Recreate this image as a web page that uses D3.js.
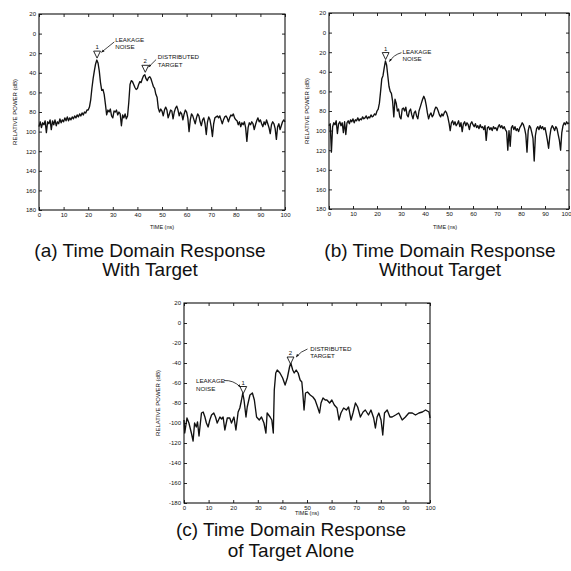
<!DOCTYPE html>
<html><head><meta charset="utf-8">
<script src="https://cdn.jsdelivr.net/npm/d3@7"></script>
<style>body{margin:0;background:#fff}svg{display:block}</style>
</head><body>
<svg id="chart" width="571" height="571"></svg>
<script>
// ---------- data ----------
const timeTicks = [0,10,20,30,40,50,60,70,80,90,100];
const powerTicks = [20,0,-20,-40,-60,-80,-100,-120,-140,-160,-180];
const powerTickLabelsAB = ["20","0","20","40","60","80","100","120","140","160","180"];
const powerTickLabelsC = ["20","0","-20","-40","-60","-80","-100","-120","-140","-160","-180"];
const yAxisTitle = "RELATIVE POWER (dB)";
const xAxisTitle = "TIME (ns)";
const titlesA = ["(a) Time Domain Response","With Target"];
const titlesB = ["(b) Time Domain Response","Without Target"];
const titlesC = ["(c) Time Domain Response","of Target Alone"];
const leakageText = ["LEAKAGE","NOISE"];
const targetText = ["DISTRIBUTED","TARGET"];

// (a) with target: [time ns, relative power dB]
const seriesA = [[0,-95],[0.5,-90],[1,-96],[1.5,-91],[2,-93],[2.5,-89],[3,-101],[3.5,-90],[4,-92],[4.5,-88],[5,-98],[5.5,-89],[6,-93],[6.5,-88],[7,-94],[7.5,-90],[8,-92],[8.5,-87],[9,-91],[9.5,-88],[10,-90],[10.5,-86],[11,-89],[11.5,-85],[12,-89],[12.5,-86],[13,-88],[13.5,-85],[14,-87],[14.5,-84],[15,-86],[15.5,-83],[16,-85],[16.5,-82],[17,-84],[17.5,-81],[18,-83],[18.5,-80],[19,-81],[19.5,-78],[20,-78],[20.5,-75],[21,-68],[21.5,-56],[22,-46],[22.5,-38],[23,-31],[23.5,-27],[24,-30],[24.5,-38],[25,-50],[25.5,-58],[26,-57],[26.5,-62],[27,-72],[27.5,-83],[28,-78],[28.5,-80],[29,-77],[29.5,-84],[30,-86],[30.5,-79],[31,-80],[31.5,-78],[32,-83],[32.5,-80],[33,-82],[33.5,-94],[34,-83],[34.5,-86],[35,-82],[35.5,-87],[36,-84],[36.5,-70],[37,-52],[37.5,-48],[38,-49],[38.5,-52],[39,-55],[39.5,-57],[40,-56],[40.5,-52],[41,-49],[41.5,-50],[42,-46],[42.5,-43],[43,-42],[43.5,-46],[44,-48],[44.5,-45],[45,-44],[45.5,-46],[46,-50],[46.5,-54],[47,-56],[47.5,-62],[48,-65],[48.5,-76],[49,-80],[49.5,-77],[50,-79],[50.5,-84],[51,-78],[51.5,-75],[52,-78],[52.5,-86],[53,-82],[53.5,-78],[54,-79],[54.5,-87],[55,-80],[55.5,-76],[56,-74],[56.5,-78],[57,-84],[57.5,-80],[58,-82],[58.5,-88],[59,-82],[59.5,-78],[60,-80],[60.5,-86],[61,-100],[61.5,-88],[62,-82],[62.5,-84],[63,-88],[63.5,-92],[64,-86],[64.5,-82],[65,-84],[65.5,-90],[66,-94],[66.5,-88],[67,-86],[67.5,-92],[68,-103],[68.5,-90],[69,-85],[69.5,-88],[70,-95],[70.5,-105],[71,-92],[71.5,-86],[72,-85],[72.5,-84],[73,-86],[73.5,-84],[74,-88],[74.5,-92],[75,-88],[75.5,-85],[76,-84],[76.5,-86],[77,-90],[77.5,-86],[78,-83],[78.5,-84],[79,-82],[79.5,-86],[80,-88],[80.5,-89],[81,-93],[81.5,-90],[82,-95],[82.5,-91],[83,-93],[83.5,-90],[84,-96],[84.5,-110],[85,-96],[85.5,-91],[86,-93],[86.5,-90],[87,-92],[87.5,-98],[88,-93],[88.5,-89],[89,-86],[89.5,-90],[90,-88],[90.5,-92],[91,-95],[91.5,-90],[92,-93],[92.5,-88],[93,-92],[93.5,-96],[94,-102],[94.5,-93],[95,-90],[95.5,-92],[96,-97],[96.5,-108],[97,-95],[97.5,-92],[98,-98],[98.5,-94],[99,-90],[99.5,-88],[100,-90]];

// (b) without target
const seriesB = [[0,-95],[0.5,-93],[1,-122],[1.5,-96],[2,-92],[2.5,-94],[3,-90],[3.5,-103],[4,-93],[4.5,-91],[5,-95],[5.5,-92],[6,-102],[6.5,-91],[7,-104],[7.5,-92],[8,-90],[8.5,-93],[9,-89],[9.5,-91],[10,-88],[10.5,-92],[11,-89],[11.5,-90],[12,-87],[12.5,-90],[13,-88],[13.5,-89],[14,-86],[14.5,-88],[15,-87],[15.5,-85],[16,-88],[16.5,-86],[17,-87],[17.5,-84],[18,-86],[18.5,-85],[19,-83],[19.5,-84],[20,-80],[20.5,-78],[21,-72],[21.5,-60],[22,-47],[22.5,-44],[23,-36],[23.5,-29],[24,-33],[24.5,-44],[25,-55],[25.5,-60],[26,-62],[26.5,-70],[27,-86],[27.5,-68],[28,-72],[28.5,-80],[29,-78],[29.5,-86],[30,-88],[30.5,-78],[31,-77],[31.5,-80],[32,-76],[32.5,-84],[33,-86],[33.5,-80],[34,-78],[34.5,-84],[35,-88],[35.5,-82],[36,-80],[36.5,-85],[37,-88],[37.5,-80],[38,-76],[38.5,-72],[39,-68],[39.5,-65],[40,-68],[40.5,-74],[41,-82],[41.5,-88],[42,-84],[42.5,-82],[43,-86],[43.5,-84],[44,-79],[44.5,-76],[45,-77],[45.5,-80],[46,-84],[46.5,-86],[47,-83],[47.5,-85],[48,-82],[48.5,-80],[49,-82],[49.5,-86],[50,-92],[50.5,-100],[51,-92],[51.5,-90],[52,-94],[52.5,-91],[53,-95],[53.5,-93],[54,-90],[54.5,-96],[55,-92],[55.5,-101],[56,-93],[56.5,-91],[57,-95],[57.5,-92],[58,-94],[58.5,-99],[59,-93],[59.5,-91],[60,-94],[60.5,-96],[61,-93],[61.5,-97],[62,-95],[62.5,-98],[63,-94],[63.5,-97],[64,-96],[64.5,-99],[65,-95],[65.5,-110],[66,-97],[66.5,-96],[67,-99],[67.5,-97],[68,-100],[68.5,-96],[69,-98],[69.5,-97],[70,-100],[70.5,-96],[71,-94],[71.5,-97],[72,-95],[72.5,-98],[73,-96],[73.5,-99],[74,-101],[74.5,-120],[75,-100],[75.5,-116],[76,-97],[76.5,-95],[77,-99],[77.5,-96],[78,-100],[78.5,-98],[79,-101],[79.5,-97],[80,-95],[80.5,-92],[81,-94],[81.5,-98],[82,-104],[82.5,-122],[83,-100],[83.5,-95],[84,-97],[84.5,-102],[85,-108],[85.5,-131],[86,-105],[86.5,-98],[87,-96],[87.5,-99],[88,-95],[88.5,-98],[89,-96],[89.5,-99],[90,-97],[90.5,-103],[91,-110],[91.5,-118],[92,-106],[92.5,-98],[93,-95],[93.5,-97],[94,-100],[94.5,-96],[95,-98],[95.5,-104],[96,-110],[96.5,-120],[97,-102],[97.5,-95],[98,-92],[98.5,-94],[99,-91],[99.5,-93],[100,-92]];

// (c) target alone
const seriesC = [[0,-97],[0.3,-110],[1.2,-95],[2,-100],[3,-110],[3.7,-118],[4.3,-100],[5,-104],[5.5,-99],[6.1,-113],[7.1,-90],[7.8,-89],[8.5,-94],[9.1,-100],[9.8,-104],[10.5,-97],[11.2,-92],[12.1,-90],[12.8,-94],[13.5,-100],[14.6,-94],[15.3,-96],[15.9,-94],[16.6,-107],[17.6,-95],[18.6,-95],[19.3,-100],[20.3,-94],[21.1,-107],[22,-89],[22.7,-85],[23.3,-78],[23.9,-70],[24.4,-77],[25.2,-94],[25.7,-84],[26.8,-72],[27.8,-70],[28.6,-77],[29.5,-94],[30.6,-97],[31.5,-94],[32.5,-100],[33.3,-110],[33.8,-90],[35,-94],[35.7,-97],[36.3,-110],[36.7,-67],[37.3,-50],[37.9,-47],[39,-50],[40.1,-55],[41.1,-62],[42,-55],[42.9,-44],[43.4,-40],[44.2,-47],[44.8,-50],[45.6,-47],[46.4,-50],[47.2,-57],[47.9,-59],[48.3,-70],[48.8,-87],[49.4,-70],[50.2,-69],[51.3,-72],[52.4,-74],[53.3,-77],[54.3,-84],[55.1,-90],[55.7,-80],[56.5,-75],[57.4,-77],[58.1,-77],[59.2,-80],[60.1,-77],[61.1,-82],[62.2,-85],[63,-97],[63.8,-90],[64.9,-85],[66,-87],[66.9,-84],[67.9,-97],[68.7,-90],[69.7,-80],[70.6,-84],[71.7,-94],[72.8,-89],[73.7,-87],[75,-92],[76,-87],[77.1,-95],[77.8,-105],[78.5,-94],[79.2,-90],[80.1,-97],[80.8,-112],[81.5,-90],[82.6,-87],[83.7,-94],[84.6,-94],[86,-92],[87.3,-90],[88.7,-97],[90,-94],[91.4,-90],[92.8,-90],[94.1,-92],[95.5,-90],[96.9,-89],[98.2,-87],[99.6,-89],[100,-95]];

// ---------- layout / styles ----------
const FONT = "'Liberation Sans', Arial, Helvetica, sans-serif";
const INK = "#111";
const panels = [
  { data: seriesA, labels: powerTickLabelsAB, titles: titlesA,
    box: {x0:39, x1:285, y0:14, y1:210}, yTitleX: 15, xTitleY: 229, titleX: 150, titleY: [257, 276],
    notes: [
      {t:23.6, v:-25, num:"1", text:leakageText, tt:31, tv:-8.5, arrow:[30.6,-8.5,25.4,-19], bend:0},
      {t:43.2, v:-39.5, num:"2", text:targetText, tt:48.3, tv:-26, arrow:[47.6,-26.5,44.6,-34], bend:0}
    ]},
  { data: seriesB, labels: powerTickLabelsAB, titles: titlesB,
    box: {x0:329, x1:569, y0:13, y1:209}, yTitleX: 307, xTitleY: 229, titleX: 440, titleY: [257, 276],
    notes: [
      {t:23.6, v:-27.5, num:"1", text:leakageText, tt:30.6, tv:-21.5, arrow:[30.2,-20.5,25.2,-29.5], bend:3}
    ]},
  { data: seriesC, labels: powerTickLabelsC, titles: titlesC,
    box: {x0:184, x1:430, y0:303, y1:503}, yTitleX: 158, xTitleY: 515, titleX: 291, titleY: [536, 557],
    notes: [
      {t:24.1, v:-70.5, num:"1", text:leakageText, tt:4.9, tv:-60, arrow:[16.2,-57.5,22.9,-64], bend:-4},
      {t:43.3, v:-41, num:"2", text:targetText, tt:51.3, tv:-27.5, arrow:[50.2,-26,45.6,-34], bend:2}
    ]}
];

const svg = d3.select("#chart");
svg.append("rect").attr("width",571).attr("height",571).attr("fill","#fff");
const defs = svg.append("defs");
defs.append("marker").attr("id","ah").attr("viewBox","0 0 10 10").attr("refX",9).attr("refY",5)
  .attr("markerWidth",4).attr("markerHeight",4).attr("orient","auto")
  .append("path").attr("d","M0,1 L10,5 L0,9 Z").attr("fill",INK);

panels.forEach(p => {
  const b = p.box;
  const x = d3.scaleLinear().domain([0,100]).range([b.x0, b.x1]);
  const y = d3.scaleLinear().domain([20,-180]).range([b.y0, b.y1]);
  const g = svg.append("g");

  // frame
  g.append("rect").attr("x",b.x0).attr("y",b.y0).attr("width",b.x1-b.x0).attr("height",b.y1-b.y0)
    .attr("fill","none").attr("stroke",INK).attr("stroke-width",1.1);

  const styleAxis = (sel, showLabels) => {
    sel.select(".domain").remove();
    sel.selectAll(".tick line").attr("stroke",INK).attr("stroke-width",0.9);
    sel.selectAll(".tick text").attr("fill",INK).style("font-family",FONT).style("font-size","6px");
    if (!showLabels) sel.selectAll(".tick text").remove();
  };

  g.append("g").attr("transform",`translate(${b.x0},0)`)
    .call(d3.axisLeft(y).tickValues(powerTicks).tickSize(-3).tickPadding(3).tickFormat((d,i)=>p.labels[i]))
    .call(s=>styleAxis(s,true));
  g.append("g").attr("transform",`translate(${b.x1},0)`)
    .call(d3.axisRight(y).tickValues(powerTicks).tickSize(-3))
    .call(s=>styleAxis(s,false));
  const bottom = g.append("g").attr("transform",`translate(0,${b.y1})`)
    .call(d3.axisBottom(x).tickValues(timeTicks).tickSize(-3).tickPadding(3))
    .call(s=>styleAxis(s,true));
  // keep a label touching the page edge inside the page
  bottom.selectAll(".tick").filter(d => x(d) + 6 > 571).select("text").attr("text-anchor","end").attr("dx","2");
  g.append("g").attr("transform",`translate(0,${b.y0})`)
    .call(d3.axisTop(x).tickValues(timeTicks).tickSize(-3))
    .call(s=>styleAxis(s,false));

  // axis titles
  g.append("text").attr("transform",`translate(${p.yTitleX},${(b.y0+b.y1)/2}) rotate(-90)`)
    .attr("text-anchor","middle").attr("dominant-baseline","middle")
    .style("font-family",FONT).style("font-size","6px").attr("fill",INK).text(yAxisTitle);
  g.append("text").attr("x",(b.x0+b.x1)/2 - (b.x1>560?4:0)).attr("y",p.xTitleY)
    .attr("text-anchor","middle").style("font-family",FONT).style("font-size","5.5px").attr("fill",INK).text(xAxisTitle);

  // trace
  g.append("path").datum(p.data)
    .attr("d", d3.line().x(d=>x(d[0])).y(d=>y(d[1])))
    .attr("fill","none").attr("stroke",INK).attr("stroke-width",1.35).attr("stroke-linejoin","round");

  // annotations
  p.notes.forEach(n => {
    const px = x(n.t), py = y(n.v);
    g.append("path").attr("d",`M${px},${py} L${px-3.4},${py-7} L${px+3.4},${py-7} Z`)
      .attr("fill","#fff").attr("stroke",INK).attr("stroke-width",0.9);
    g.append("text").attr("x",px).attr("y",py-9).attr("text-anchor","middle")
      .style("font-family",FONT).style("font-size","6px").attr("fill",INK).text(n.num);
    n.text.forEach((line,i) => {
      g.append("text").attr("x",x(n.tt)).attr("y",y(n.tv)+i*7.5)
        .style("font-family",FONT).style("font-size","6.2px").attr("fill",INK).text(line);
    });
    const [t1,v1,t2,v2] = n.arrow;
    const ax = x(t1), ay = y(v1), bx = x(t2), by = y(v2);
    const mx = (ax+bx)/2, my = (ay+by)/2;
    const dx = bx-ax, dy = by-ay, len = Math.hypot(dx,dy);
    const cx = mx + (-dy/len)*n.bend, cy = my + (dx/len)*n.bend;
    g.append("path").attr("d",`M${ax},${ay} Q${cx},${cy} ${bx},${by}`)
      .attr("fill","none").attr("stroke",INK).attr("stroke-width",0.8).attr("marker-end","url(#ah)");
  });

  // panel caption
  p.titles.forEach((line,i) => {
    svg.append("text").attr("x",p.titleX).attr("y",p.titleY[i]).attr("text-anchor","middle")
      .style("font-family",FONT).style("font-size","19px").attr("fill",INK).text(line);
  });
});
</script>
</body></html>
